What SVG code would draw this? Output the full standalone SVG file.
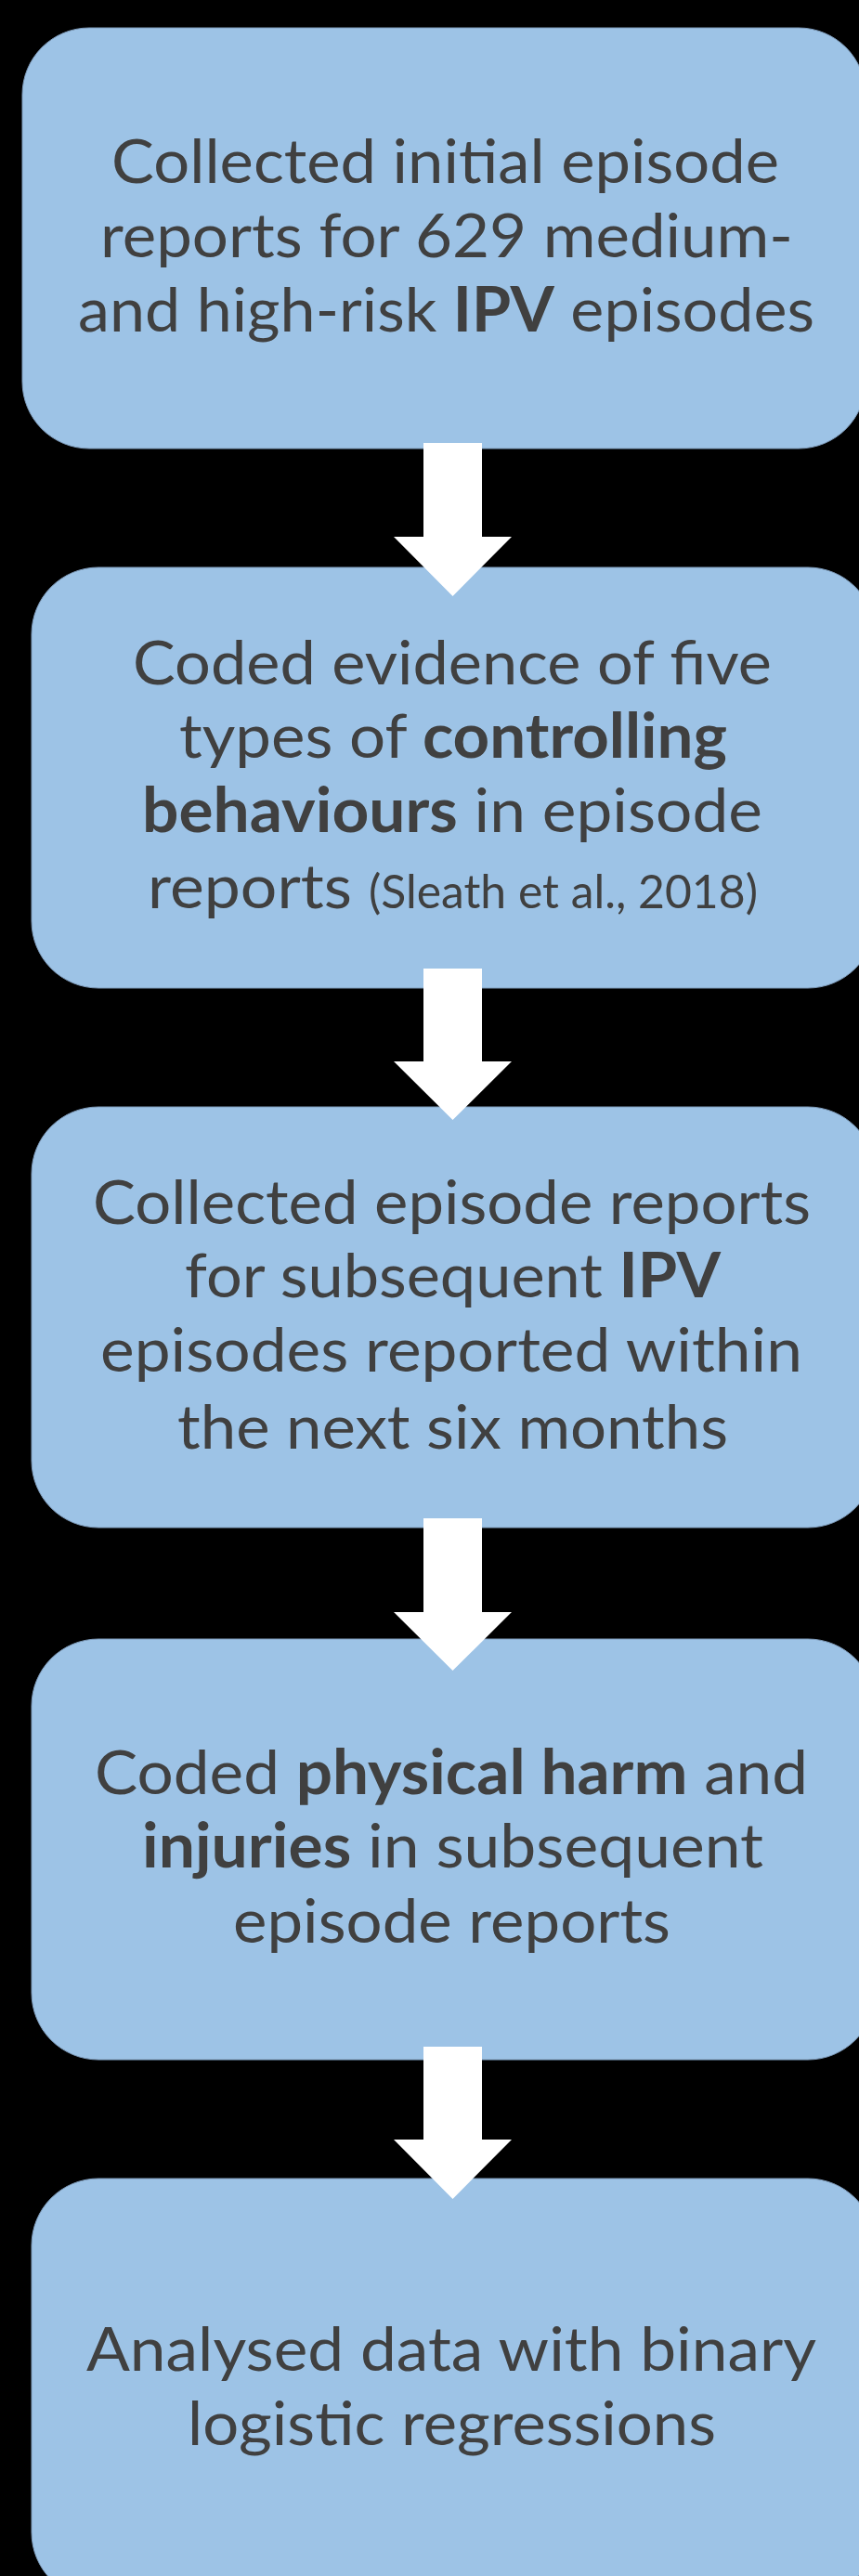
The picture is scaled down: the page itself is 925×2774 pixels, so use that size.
<svg xmlns="http://www.w3.org/2000/svg" width="925" height="2774" viewBox="0 0 925 2774">
<style>
.box{fill:#9dc3e6;stroke:#7f9cbb;stroke-width:1}
.t{font-family:Lato,"Open Sans","Liberation Sans",sans-serif;font-size:66px;fill:#404040}
.c{font-size:51px}
.b{font-weight:bold}
.arrow{fill:#ffffff}
</style>
<rect x="0" y="0" width="925" height="2774" fill="#000000"/>
<g id="node1">
<rect class="box" x="24" y="30" width="908" height="453" rx="72" ry="72"/>
<text class="t" x="120" y="197" textLength="719" lengthAdjust="spacingAndGlyphs">Collected initial episode</text>
<text class="t" x="108" y="277" textLength="746" lengthAdjust="spacingAndGlyphs">reports for 629 medium-</text>
<text class="t" x="84" y="357" textLength="793" lengthAdjust="spacingAndGlyphs">and high-risk <tspan class="b">IPV</tspan> episodes</text>
</g>
<g id="node2">
<rect class="box" x="34" y="611" width="908" height="453" rx="72" ry="72"/>
<text class="t" x="143" y="737" textLength="688" lengthAdjust="spacingAndGlyphs">Coded evidence of five</text>
<text class="t" x="193" y="816" textLength="590" lengthAdjust="spacingAndGlyphs">types of <tspan class="b">controlling</tspan></text>
<text class="t" x="153" y="896" textLength="668" lengthAdjust="spacingAndGlyphs"><tspan class="b">behaviours</tspan> in episode</text>
<text class="t" x="159" y="978" textLength="220" lengthAdjust="spacingAndGlyphs">reports</text>
<text class="t c" x="397" y="978" textLength="419" lengthAdjust="spacingAndGlyphs">(Sleath et al., 2018)</text>
</g>
<g id="node3">
<rect class="box" x="34" y="1192" width="908" height="453" rx="72" ry="72"/>
<text class="t" x="100" y="1318" textLength="773" lengthAdjust="spacingAndGlyphs">Collected episode reports</text>
<text class="t" x="199" y="1397" textLength="577" lengthAdjust="spacingAndGlyphs">for subsequent <tspan class="b">IPV</tspan></text>
<text class="t" x="108" y="1477" textLength="756" lengthAdjust="spacingAndGlyphs">episodes reported within</text>
<text class="t" x="191" y="1560" textLength="593" lengthAdjust="spacingAndGlyphs">the next six months</text>
</g>
<g id="node4">
<rect class="box" x="34" y="1765" width="908" height="453" rx="72" ry="72"/>
<text class="t" x="102" y="1932" textLength="768" lengthAdjust="spacingAndGlyphs">Coded <tspan class="b">physical harm</tspan> and</text>
<text class="t" x="153" y="2011" textLength="669" lengthAdjust="spacingAndGlyphs"><tspan class="b">injuries</tspan> in subsequent</text>
<text class="t" x="251" y="2092" textLength="471" lengthAdjust="spacingAndGlyphs">episode reports</text>
</g>
<g id="node5">
<rect class="box" x="34" y="2346" width="908" height="453" rx="72" ry="72"/>
<text class="t" x="93" y="2553" textLength="786" lengthAdjust="spacingAndGlyphs">Analysed data with binary</text>
<text class="t" x="202" y="2633" textLength="569" lengthAdjust="spacingAndGlyphs">logistic regressions</text>
</g>
<g id="connectors">
<polygon class="arrow" points="456,477 519,477 519,578 551,578 487.5,642 424,578 456,578"/>
<polygon class="arrow" points="456,1043 519,1043 519,1143 551,1143 487.5,1206 424,1143 456,1143"/>
<polygon class="arrow" points="456,1635 519,1635 519,1736 551,1736 487.5,1799 424,1736 456,1736"/>
<polygon class="arrow" points="456,2204 519,2204 519,2304 551,2304 487.5,2368 424,2304 456,2304"/>
</g>
</svg>
